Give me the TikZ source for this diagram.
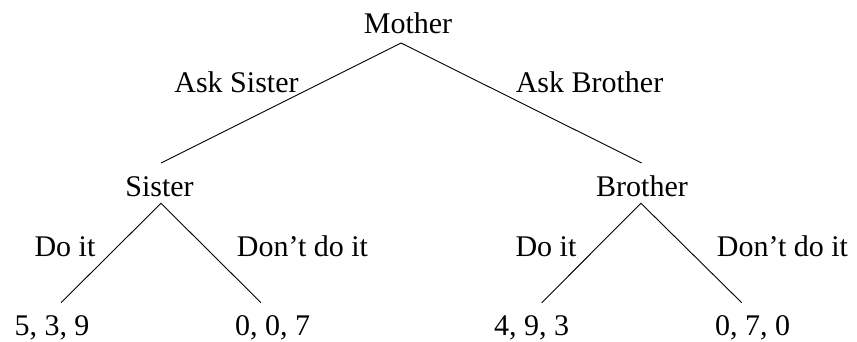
\documentclass[tikz,border=0pt]{standalone}
\usepackage{fontspec}
\setmainfont{Liberation Serif}
\begin{document}
\begin{tikzpicture}[x=1pt,y=-1pt,
  lbl/.style={anchor=base, inner sep=0pt, font=\fontsize{30}{36}\selectfont},
  edge/.style={line width=0.9pt}]
\useasboundingbox (0,0) rectangle (857,341);
% nodes
\node[lbl] (mother) at (408,33) {Mother};
\node[lbl] (sister) at (159.5,196.7) {Sister};
\node[lbl] (brother) at (642,196.7) {Brother};
\node[lbl] (l1) at (52,335.5) {5, 3, 9};
\node[lbl] (l2) at (272.5,335.5) {0, 0, 7};
\node[lbl] (l3) at (531.7,335.5) {4, 9, 3};
\node[lbl] (l4) at (752.5,335.5) {0, 7, 0};
% edge labels
\node[lbl] (askS) at (236.5,92) {Ask Sister};
\node[lbl] (askB) at (589.5,92.5) {Ask Brother};
\node[lbl] (do1) at (65,256) {Do it};
\node[lbl] (dont1) at (302.5,256) {Don’t do it};
\node[lbl] (do2) at (546,256) {Do it};
\node[lbl] (dont2) at (782.5,256) {Don’t do it};
% connectors
\draw[edge] ([shift={(1.5,-33.7)}]sister.base) -- ([shift={(-7,10)}]mother.base) -- ([shift={(-0.3,-33.7)}]brother.base);
\draw[edge] ([shift={(9,-32.8)}]l1.base) -- ([shift={(1.5,6.6)}]sister.base) -- ([shift={(-11.5,-32.8)}]l2.base);
\draw[edge] ([shift={(10,-32.8)}]l3.base) -- ([shift={(-1,6.6)}]brother.base) -- ([shift={(-10.8,-32.8)}]l4.base);
\end{tikzpicture}
\end{document}
